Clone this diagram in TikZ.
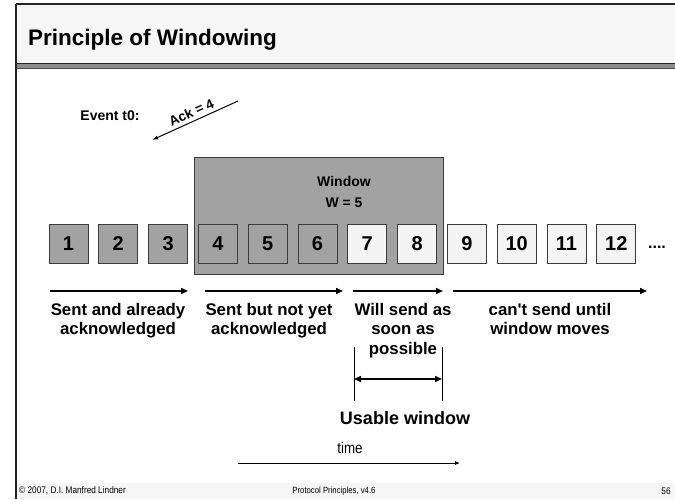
\documentclass[tikz,border=0pt]{standalone}
\usepackage{fontspec}
\setmainfont{Liberation Sans}[Ligatures=TeXOff]
\newfontfamily\narrowfont{Liberation Sans}[FakeStretch=0.86, Ligatures=TeXOff]
\usetikzlibrary{arrows.meta}
\definecolor{barfill}{HTML}{F6F6F6}
\definecolor{winfill}{HTML}{A2A2A2}
\definecolor{lightbox}{HTML}{F4F4F4}
\definecolor{edge}{HTML}{3C3C3C}
\tikzset{
  pkt/.style={draw=edge, line width=0.8pt, minimum width=39pt, minimum height=39pt,
    inner sep=0pt, font=\fontsize{20}{24}\selectfont\bfseries},
  sentpkt/.style={pkt, fill=winfill},
  freepkt/.style={pkt, fill=lightbox},
  span/.style={line width=1.6pt, -{Triangle[length=7pt,width=6pt]}},
  label/.style={align=center, font=\fontsize{16.8}{19.5}\selectfont\bfseries, inner sep=0pt},
}
\begin{document}
\begin{tikzpicture}[x=1pt, y=-1pt]
\useasboundingbox (0,0) rectangle (675,499);
% slide frame: title bar, footer band, left rule
\fill[barfill] (16,4) rectangle (675,63);
\draw[line width=1.2pt, black!85] (16,4) -- (675,4);
\fill[black!45] (16,63) rectangle (675,69);
\draw[line width=1pt, black!85] (16,63.5) -- (675,63.5);
\draw[line width=1pt, black!70] (16,68.5) -- (675,68.5);
\fill[barfill] (16,483) rectangle (675,499);
\draw[line width=2pt, black!85] (16,4) -- (16,499);
\node[anchor=base west, font=\fontsize{22.5}{27}\selectfont\bfseries, inner sep=0pt]
  (title) at (28,45) {Principle of Windowing};

% event label and acknowledgement arrow
\node[font=\fontsize{14}{16}\selectfont\bfseries] (event) at (110,116) {Event t0:};
\coordinate (ackfrom) at (238,101);
\coordinate (ackto) at (152,140);
\draw[line width=1pt, {Latex[length=6pt,width=4pt]}-] (ackto) --
  node[sloped, above, inner sep=3.5pt, font=\fontsize{13.5}{16}\selectfont\bfseries] (acklbl) {Ack = 4} (ackfrom);

% the window
\node[draw=edge, line width=0.8pt, fill=winfill, minimum width=249pt, minimum height=117pt,
  inner sep=0pt] (win) at (318.5,215.5) {};
\node[align=center, font=\fontsize{14}{20.5}\selectfont\bfseries] (wlbl) at (344,192) {Window\\W = 5};

% packets
\foreach \i in {1,...,6}
  \node[sentpkt] (p\i) at ({68.5+49.8*(\i-1)},243.5) {\i};
\foreach \i in {7,...,12}
  \node[freepkt] (p\i) at ({68.5+49.8*(\i-1)},243.5) {\i};
\node[font=\fontsize{16}{18}\selectfont\bfseries] (dots) at (657,247) {....};

% ranges
\coordinate (a1) at (50,291);  \coordinate (b1) at (188,291);
\coordinate (a2) at (205,291); \coordinate (b2) at (343,291);
\coordinate (a3) at (353,291); \coordinate (b3) at (443,291);
\coordinate (a4) at (453,291); \coordinate (b4) at (647,291);
\draw[span] (a1) -- (b1);
\draw[span] (a2) -- (b2);
\draw[span] (a3) -- (b3);
\draw[span] (a4) -- (b4);
\node[label, anchor=north] (l1) at (118,303) {Sent and already\\acknowledged};
\node[label, anchor=north] (l2) at (269,303) {Sent but not yet\\acknowledged};
\node[label, anchor=north] (l3) at (403,303) {Will send as\\soon as\\possible};
\node[label, anchor=north] (l4) at (550,303) {can't send until\\window moves};

% usable window
\coordinate (u1t) at (354,347); \coordinate (u1b) at (354,401);
\coordinate (u2t) at (442,347); \coordinate (u2b) at (442,401);
\draw[line width=0.8pt] (u1t) -- (u1b);
\draw[line width=0.8pt] (u2t) -- (u2b);
\coordinate (ul) at (354,379); \coordinate (ur) at (442,379);
\draw[line width=1.6pt, {Triangle[length=7pt,width=6pt]}-{Triangle[length=7pt,width=6pt]}] (ul) -- (ur);
\node[font=\fontsize{18}{22}\selectfont\bfseries] (usable) at (405,418) {Usable window};

% time axis
\node[font=\narrowfont\fontsize{15.5}{18}\selectfont] (timelbl) at (350,448) {time};
\coordinate (t0) at (238,463); \coordinate (t1) at (460,463);
\draw[line width=0.8pt, -{Latex[length=5pt,width=4pt]}] (t0) -- (t1);

% footer
\node[anchor=west, font=\narrowfont\fontsize{9.6}{11}\selectfont, inner sep=0pt] (copy) at (19,491) {© 2007, D.I. Manfred Lindner};
\node[font=\narrowfont\fontsize{9}{11}\selectfont, inner sep=0pt] (course) at (334,491) {Protocol Principles, v4.6};
\node[font=\narrowfont\fontsize{9.6}{11}\selectfont, inner sep=0pt] (page) at (666,491) {56};
\end{tikzpicture}
\end{document}
